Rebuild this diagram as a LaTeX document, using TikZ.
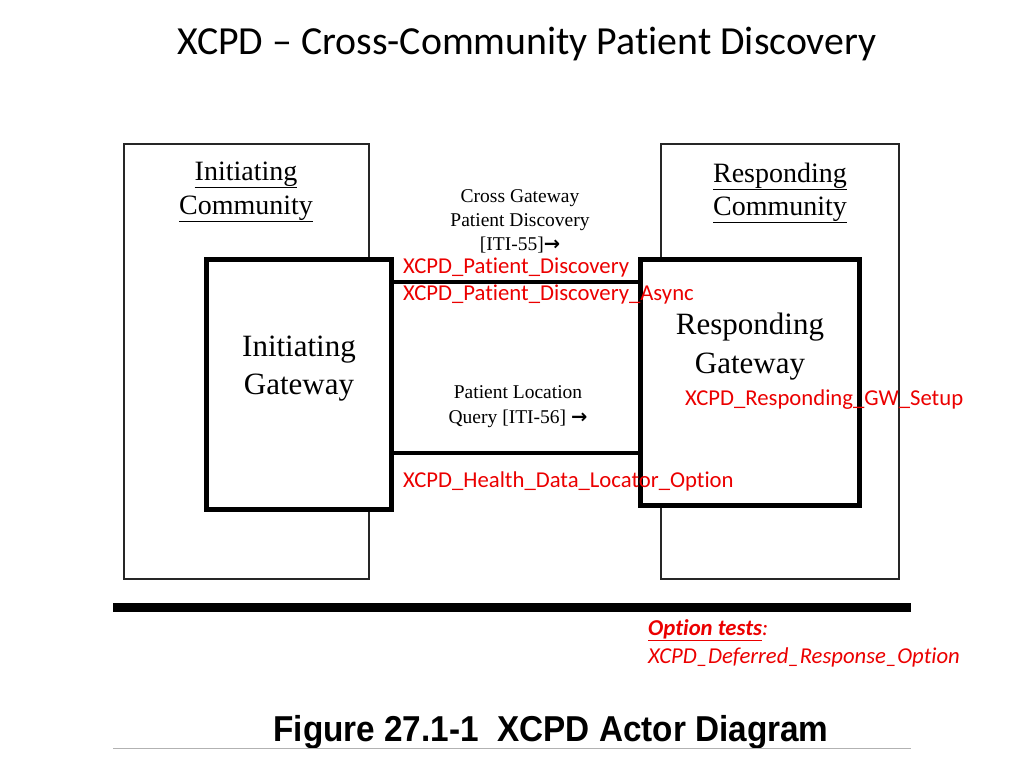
\documentclass[tikz,border=0pt]{standalone}
\usepackage{fontspec}
\setmainfont{Liberation Serif}
\newfontfamily\calfont[Ligatures=NoCommon]{Carlito}
\newfontfamily\arialfont{Liberation Sans}
\newfontfamily\dvfont{DejaVu Sans}
\definecolor{xred}{RGB}{235,0,0}
\newcommand{\barrow}{{\dvfont\bfseries →}}
\begin{document}
\begin{tikzpicture}[x=1pt,y=-1pt,
  comm/.style={draw=black!85, line width=2pt, inner sep=0pt},
  gw/.style={draw=black, line width=5pt, fill=white, inner sep=0pt},
  conn/.style={draw=black, line width=4pt},
  serif/.style={anchor=base, align=center, inner sep=0pt},
  redlbl/.style={anchor=base west, inner sep=0pt, text=xred, font=\calfont\fontsize{22.7}{26}\selectfont}
]
\useasboundingbox (0,0) rectangle (1024,768);

% title
\node[anchor=base, inner sep=0pt, font=\calfont\fontsize{39.8}{46}\selectfont] (title) at (527,55) {XCPD – Cross-Community Patient Discovery};

% community boxes
\node[comm, minimum width=245pt, minimum height=435pt] (ic) at (246.5,361.5) {};
\node[comm, minimum width=238pt, minimum height=435pt] (rc) at (780,361.5) {};

% gateway boxes
\node[gw, minimum width=185pt, minimum height=250pt] (ig) at (299,384.5) {};
\node[gw, minimum width=219pt, minimum height=246pt] (rg) at (750,382.5) {};

% connectors
\coordinate (l1) at (500,282);
\coordinate (l2) at (500,453);
\draw[conn] (ig.east |- l1) -- (rg.west |- l1);
\draw[conn] (ig.east |- l2) -- (rg.west |- l2);

% community titles
\node[serif, font=\fontsize{28}{32}\selectfont] (ict1) at (246,180) {\underline{Initiating}};
\node[serif, font=\fontsize{28}{32}\selectfont] (ict2) at (246,214) {\underline{Community}};
\node[serif, font=\fontsize{28}{32}\selectfont] (rct1) at (780,182) {\underline{Responding}};
\node[serif, font=\fontsize{28}{32}\selectfont] (rct2) at (780,215) {\underline{Community}};

% gateway titles
\node[serif, font=\fontsize{31}{36}\selectfont] (igt1) at (299,356) {Initiating};
\node[serif, font=\fontsize{31}{36}\selectfont] (igt2) at (299,394) {Gateway};
\node[serif, font=\fontsize{31}{36}\selectfont] (rgt1) at (750,334) {Responding};
\node[serif, font=\fontsize{31}{36}\selectfont] (rgt2) at (750,373) {Gateway};

% transaction labels
\node[serif, font=\fontsize{19.5}{23}\selectfont] (t1a) at (520,202) {Cross Gateway};
\node[serif, font=\fontsize{19.5}{23}\selectfont] (t1b) at (520,226) {Patient Discovery};
\node[serif, font=\fontsize{19.5}{23}\selectfont] (t1c) at (520,250) {[ITI-55]\barrow};
\node[serif, font=\fontsize{19.5}{23}\selectfont] (t2a) at (518,398) {Patient Location};
\node[serif, font=\fontsize{19.5}{23}\selectfont] (t2b) at (518,423) {Query [ITI-56] \barrow};

% red test labels
\node[redlbl] (r1) at (403,273) {XCPD\_Patient\_Discovery};
\node[redlbl] (r2) at (403,300) {XCPD\_Patient\_Discovery\_Async};
\node[redlbl] (r3) at (685,405) {XCPD\_Responding\_GW\_Setup};
\node[redlbl] (r4) at (403,487) {XCPD\_Health\_Data\_Locator\_Option};

% bottom rule
\coordinate (bl) at (113,607.5);
\coordinate (br) at (911,607.5);
\draw[line width=9pt] (bl) -- (br);

% option tests
\node[redlbl] (o1) at (648,635) {\textbf{\textit{\underline{Option tests}}}\textit{:}};
\node[redlbl] (o2) at (648,663) {\textit{XCPD\_Deferred\_Response\_Option}};

% caption
\node[anchor=base, inner sep=0pt, xscale=0.925, font=\arialfont\bfseries\fontsize{36}{40}\selectfont] (cap) at (551,741) {Figure 27.1-1\ \ XCPD Actor Diagram};
\coordinate (gl) at (113,748.5);
\coordinate (gr) at (911,748.5);
\draw[black!30, line width=1pt] (gl) -- (gr);
\end{tikzpicture}
\end{document}
